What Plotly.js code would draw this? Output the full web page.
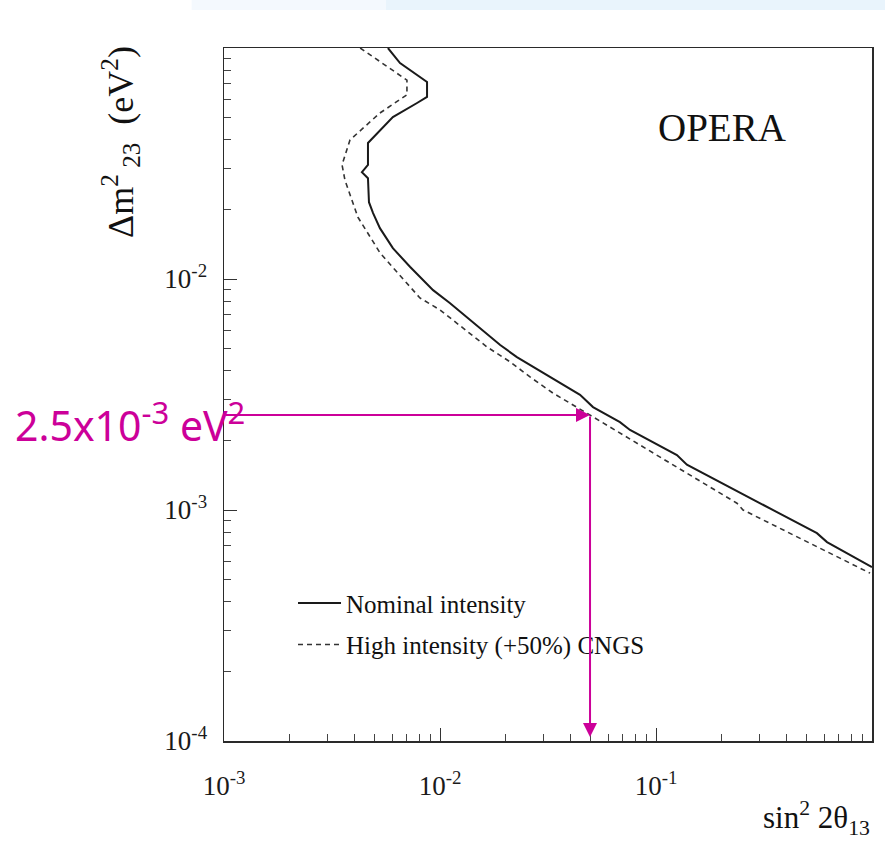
<!DOCTYPE html>
<html>
<head>
<meta charset="utf-8">
<script src="https://cdn.plot.ly/plotly-3.0.1.min.js"></script>
<style>
  html, body { margin: 0; padding: 0; background: #ffffff; }
  #chart { width: 885px; height: 842px; }
</style>
</head>
<body>
<div id="chart"></div>
<script>
// ---- Data ----
const seriesNames = ["Nominal intensity", "High intensity (+50%) CNGS"];

// Nominal intensity (solid curve): sin^2 2theta13 vs delta m^2_23 (eV^2)
const xNominal = [5.74e-3, 6.53e-3, 8.71e-3, 8.71e-3, 7.83e-3, 6.05e-3, 4.64e-3, 4.64e-3, 4.35e-3, 4.64e-3,
                  4.69e-3, 4.90e-3, 5.27e-3, 6.05e-3, 7.26e-3, 9.29e-3, 0.0111, 0.0138, 0.0165, 0.0190,
                  0.0227, 0.0270, 0.0360, 0.0445, 0.0511, 0.0681, 0.0758, 0.125, 0.139, 0.556, 0.619, 1.0];
const yNominal = [0.100, 0.0861, 0.0713, 0.0614, 0.0578, 0.0502, 0.0388, 0.0312, 0.0290, 0.0273,
                  0.0215, 0.0193, 0.0166, 0.0136, 0.0113, 8.95e-3, 7.87e-3, 6.65e-3, 5.83e-3, 5.18e-3,
                  4.59e-3, 4.16e-3, 3.55e-3, 3.15e-3, 2.79e-3, 2.40e-3, 2.22e-3, 1.73e-3, 1.57e-3, 7.94e-4, 7.26e-4, 5.66e-4];

// High intensity (+50%) CNGS (dashed curve)
const xHigh = [4.27e-3, 7.03e-3, 7.03e-3, 5.27e-3, 3.83e-3, 3.52e-3, 3.63e-3, 4.17e-3, 5.27e-3, 8.07e-3,
               0.0100, 0.0128, 0.0165, 0.0211, 0.0261, 0.0333, 0.0431, 0.0511, 0.237, 0.253, 0.98];
const yHigh = [0.100, 0.0726, 0.0627, 0.0523, 0.0400, 0.0312, 0.0268, 0.0185, 0.0130, 8.28e-3,
               7.35e-3, 6.14e-3, 5.08e-3, 4.38e-3, 3.77e-3, 3.21e-3, 2.77e-3, 2.53e-3, 1.07e-3, 1.0e-3, 5.33e-4];

// Highlighted point (magenta arrows)
const markX = 0.0495;      // sin^2 2theta13 where the arrow drops
const markY = 2.58e-3;     // delta m^2 level drawn in the picture
const arrowStartX = 1.0e-3;
const arrowEndY = 1.04e-4;

// Axis ticks
const xTickVals = [1e-3, 1e-2, 1e-1];
const xTickText = ["10<sup>-3</sup>", "10<sup>-2</sup>", "10<sup>-1</sup>"];
const yTickVals = [1e-4, 1e-3, 1e-2];
const yTickText = ["10<sup>-4</sup>", "10<sup>-3</sup>", "10<sup>-2</sup>"];

// Texts
const markLabel = "2.5x10<sup><span style='font-size:31px'>-3</span></sup>&nbsp;eV<sup><span style='font-size:31px'>2</span></sup>";
const experimentLabel = "OPERA";
const xTitle = "sin<sup>2</sup> 2θ<sub>13</sub>";
const yTitle = "Δm<sup>2</sup><sub> 23</sub>  (eV<sup>2</sup>)";

// ---- helpers ----
function minorTicks(decadeFrom, decadeTo) {
  const out = [];
  for (let d = decadeFrom; d < decadeTo; d++) {
    for (let k = 2; k <= 9; k++) out.push(k * Math.pow(10, d));
  }
  return out;
}
const L = Math.log10;
const magenta = "#CC0099";
const serif = "Liberation Serif, Times New Roman, serif";

const traces = [
  {
    x: xNominal, y: yNominal, type: "scatter", mode: "lines",
    name: seriesNames[0], legendgroup: "a",
    line: { color: "#1a1a1a", width: 2 }
  },
  {
    x: xHigh, y: yHigh, type: "scatter", mode: "lines",
    name: seriesNames[1], legendgroup: "b",
    line: { color: "#333333", width: 1.6, dash: "5px,4px" }
  }
];

function axisBase() {
  return {
    type: "log",
    showgrid: false, zeroline: false,
    showline: true, mirror: true, linecolor: "#2a2a2a", linewidth: 1.5,
    ticks: "inside", ticklen: 13, tickwidth: 1, tickcolor: "#333",
    tickmode: "array",
    tickfont: { family: serif, size: 27, color: "#1a1a1a" }
  };
}

const layout = {
  width: 885, height: 842,
  margin: { l: 224, r: 13, t: 48, b: 101, pad: 0 },
  paper_bgcolor: "#ffffff", plot_bgcolor: "#ffffff",
  showlegend: true,
  legend: {
    x: 0.1065, y: 0.232, xanchor: "left", yanchor: "top",
    bgcolor: "rgba(0,0,0,0)", borderwidth: 0,
    traceorder: "grouped", tracegroupgap: 6, itemwidth: 43,
    font: { family: serif, size: 25, color: "#111" }
  },
  xaxis: Object.assign(axisBase(), {
    range: [-3, 0],
    tickvals: xTickVals, ticktext: xTickText,
    ticklabelstandoff: 20,
    minor: { tickmode: "array", tickvals: minorTicks(-3, 0), ticks: "inside", ticklen: 7, tickcolor: "#444", showgrid: false }
  }),
  yaxis: Object.assign(axisBase(), {
    range: [-4, -1],
    tickvals: yTickVals, ticktext: yTickText,
    ticklabelstandoff: 10,
    minor: { tickmode: "array", tickvals: minorTicks(-4, -1), ticks: "inside", ticklen: 7, tickcolor: "#444", showgrid: false }
  }),
  shapes: [
    { type: "rect", xref: "paper", yref: "paper", x0: -0.05, x1: 0.25, y0: 1.055, y1: 1.072,
      fillcolor: "#f4f9fe", line: { width: 0 }, layer: "below" },
    { type: "rect", xref: "paper", yref: "paper", x0: 0.25, x1: 1.03, y0: 1.055, y1: 1.072,
      fillcolor: "#e9f4fc", line: { width: 0 }, layer: "below" }
  ],
  annotations: [
    { text: experimentLabel, xref: "paper", yref: "paper", x: 0.769, y: 0.885, xanchor: "center", yanchor: "middle",
      showarrow: false, font: { family: serif, size: 39, color: "#111" } },
    { text: xTitle, xref: "paper", yref: "paper", x: 1.0, y: -0.111, xanchor: "right", yanchor: "middle",
      showarrow: false, font: { family: serif, size: 31, color: "#111" } },
    { text: yTitle, xref: "paper", yref: "paper", x: -0.16, y: 0.865, xanchor: "center", yanchor: "middle",
      textangle: -90, showarrow: false, font: { family: serif, size: 36, color: "#111" } },
    // horizontal arrow
    { x: L(markX), y: L(markY), ax: L(arrowStartX), ay: L(markY), xref: "x", yref: "y", axref: "x", ayref: "y",
      text: "", showarrow: true, arrowhead: 2, arrowsize: 1.4, arrowwidth: 2, arrowcolor: magenta, standoff: 0 },
    // vertical arrow
    { x: L(markX), y: L(arrowEndY), ax: L(markX), ay: L(markY), xref: "x", yref: "y", axref: "x", ayref: "y",
      text: "", showarrow: true, arrowhead: 2, arrowsize: 1.4, arrowwidth: 2, arrowcolor: magenta, standoff: 0 },
    { text: markLabel, xref: "paper", yref: "paper", x: -0.3256, y: 0.461, xanchor: "left", yanchor: "middle",
      showarrow: false, font: { family: "Noto Sans, DejaVu Sans, sans-serif", size: 41, color: magenta } }
  ]
};

Plotly.newPlot("chart", traces, layout, { displayModeBar: false, staticPlot: true });
</script>
</body>
</html>
